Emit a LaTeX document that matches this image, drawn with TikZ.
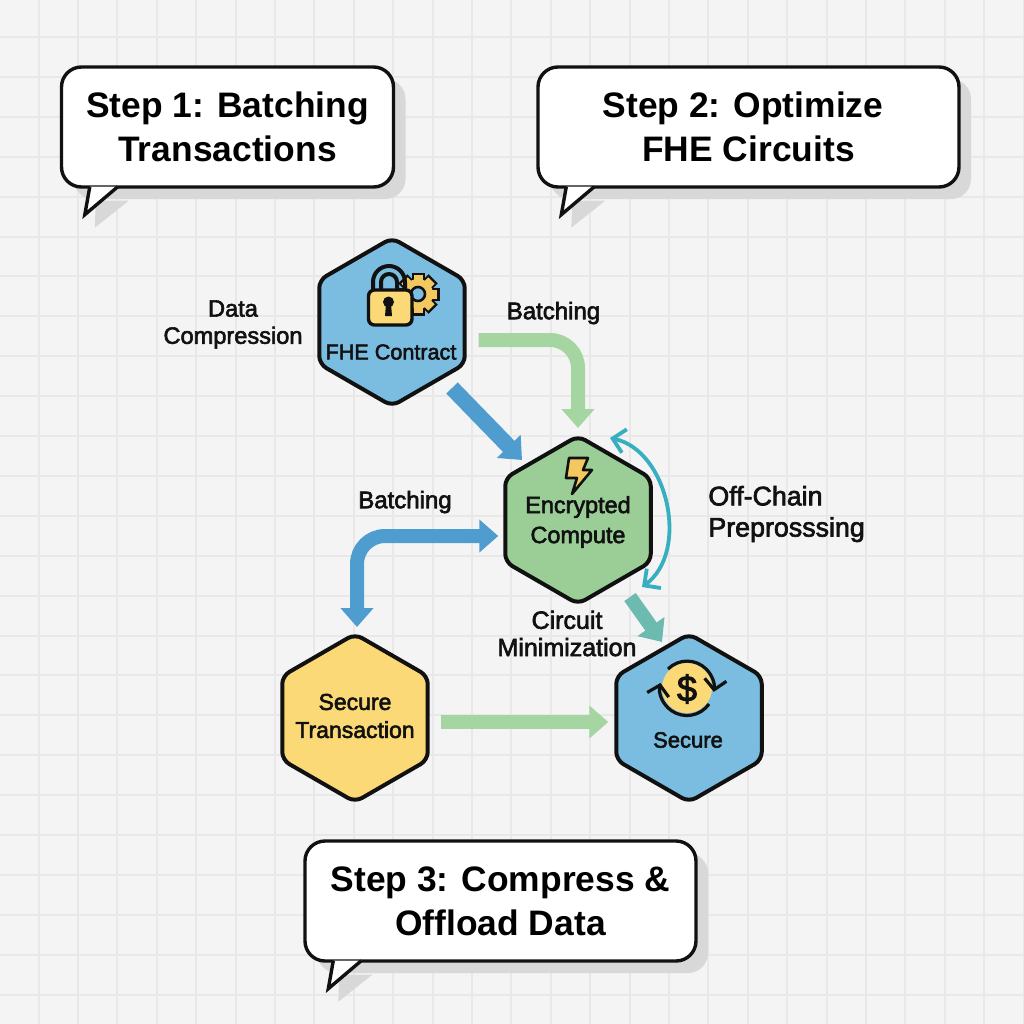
\documentclass[tikz,border=0pt]{standalone}
\usepackage{fontspec}
\setmainfont{Liberation Sans}
\newfontfamily\labelfont[FakeBold=2.5]{Liberation Sans}
\usetikzlibrary{arrows.meta,shapes.geometric,shadows}
\definecolor{paper}{HTML}{F4F4F4}
\definecolor{gridline}{HTML}{E8E8E8}
\definecolor{bubbleshade}{HTML}{D8D8D8}
\definecolor{ink}{HTML}{111111}
\definecolor{hexblue}{HTML}{7BBDE0}
\definecolor{hexgreen}{HTML}{9BCE96}
\definecolor{hexyellow}{HTML}{FBD976}
\definecolor{arrowblue}{HTML}{4F9DCE}
\definecolor{arrowgreen}{HTML}{A5D5A0}
\definecolor{arrowteal}{HTML}{6DBBB0}
\definecolor{curveteal}{HTML}{38AFC0}
\definecolor{geargold}{HTML}{F3C95F}

\begin{document}
\begin{tikzpicture}
  [x=0.5pt,y=-0.5pt,
   hexnode/.style={regular polygon,regular polygon sides=6,shape border rotate=30,
     minimum size=84pt,inner sep=0pt,outer sep=0pt,draw=ink,line width=2pt,rounded corners=4pt},
   stepbubble/.style={rectangle,rounded corners=10pt,draw=ink,fill=white,line width=1.7pt,
     minimum height=60pt,align=center,font=\fontsize{17.7}{22}\selectfont\bfseries,
     drop shadow={shadow xshift=6pt,shadow yshift=-6pt,fill=bubbleshade,opacity=1}},
   flowlabel/.style={align=center,text=ink,inner sep=0pt,
     font=\fontsize{12}{13.6}\selectfont\labelfont},
   fatarrow/.style={line width=7pt,rounded corners=14pt,
     arrows={-Triangle[width=16pt,length=9.5pt]}},
   fattwoway/.style={line width=7pt,rounded corners=14pt,
     arrows={Triangle[width=16pt,length=9.5pt]-Triangle[width=16pt,length=9.5pt]}},
   iconline/.style={draw=ink,line width=1.3pt,line join=round}]

  \fill[paper] (0,0) rectangle (1024,1024);
  \useasboundingbox (0,0) rectangle (1024,1024);
  \foreach \gx in {0,...,25}
    \draw[gridline,line width=1pt] (38.5+39.4*\gx,0) -- (38.5+39.4*\gx,1024);
  \foreach \gy in {0,...,24}
    \draw[gridline,line width=1pt] (0,37+39.9*\gy) -- (1024,37+39.9*\gy);

  % step bubbles
  \node[stepbubble,minimum width=166pt] (step1) at (227.5,127) {Step 1: Batching\\Transactions};
  \node[stepbubble,minimum width=210.5pt] (step2) at (748.5,127) {Step 2: Optimize\kern5.5pt\\FHE Circuits};
  \node[stepbubble,minimum width=195.5pt] (step3) at (500.5,901) {Step 3: Compress \&\\Offload Data};
  \foreach \bubble in {step1,step2,step3} {
    \fill[bubbleshade] ([shift={(36,12)}]\bubble.south west) -- ++(-1,27) -- ++(34,-27) -- cycle;
    \filldraw[fill=white,draw=ink,line width=1.7pt,line join=miter]
      ([shift={(30,-2)}]\bubble.south west) -- ++(-5,28) -- ++(33,-28);
  }

  % hexagons
  \node[hexnode,fill=hexblue] (fhe) at (392,322) {};
  \node[hexnode,fill=hexgreen] (enc) at (578,520) {};
  \node[hexnode,fill=hexyellow] (stx) at (355,718) {};
  \node[hexnode,fill=hexblue] (sec) at (689,718) {};

  \node[flowlabel,font=\fontsize{10.8}{15}\selectfont\labelfont] (fhetext) at (391,352) {FHE Contract};
  \node[flowlabel,font=\fontsize{11.7}{15}\selectfont\labelfont] (enctext) at (578,522) {Encrypted\\Compute};
  \node[flowlabel,font=\fontsize{11.5}{14}\selectfont\labelfont] (stxtext) at (355,716) {Secure\\Transaction};
  \node[flowlabel,font=\fontsize{11}{15}\selectfont\labelfont] (sectext) at (688,740) {Secure};

  % connectors
  \draw[fatarrow,arrowgreen] ([shift={(14,18)}]fhe.east) -| ([shift={(0,-8)}]enc.north);
  \draw[fatarrow,arrowblue,line width=8pt] ([shift={(60,66)}]fhe.center) -- ([shift={(-56,-60)}]enc.center);
  \draw[fattwoway,arrowblue] ([shift={(-7,16)}]enc.west) -| ([shift={(2,-7)}]stx.north);
  \draw[fatarrow,arrowgreen] ([shift={(13,4)}]stx.east) -- ([shift={(-8,4)}]sec.west);
  \draw[fatarrow,arrowteal] ([shift={(52,77)}]enc.center) -- ([shift={(-27,8)}]sec.north);
  \draw[curveteal,line width=1.9pt,arrows={Straight Barb[length=6pt,width=12pt]-Straight Barb[length=6pt,width=12pt]}]
    ([shift={(32,2)}]enc.north) to[bend left=66] ([shift={(64,67)}]enc.center);

  % free labels
  \node[flowlabel,font=\fontsize{11.8}{13.6}\selectfont\labelfont] (datacomp) at (233,324.5) {Data\\Compression};
  \node[flowlabel] (batchtop) at (553.5,313) {Batching};
  \node[flowlabel] (batchleft) at (405,502) {Batching};
  \node[flowlabel,align=left,anchor=west,font=\fontsize{13.4}{15.6}\selectfont\labelfont] (offchain) at (708,514) {Off-Chain\\Preprosssing};
  \node[flowlabel,font=\fontsize{12.5}{13.6}\selectfont\labelfont] (circuit) at (567,633.5) {Circuit\\Minimization};

  % lock and gear
  \foreach \a in {0,45,...,315}
    \draw[draw=ink,line width=1.5pt,fill=geargold,rotate around={\a:(418,294)}] (413,274) rectangle (423,282);
  \fill[ink] (418,294) circle (16);
  \foreach \a in {0,45,...,315}
    \fill[geargold,rotate around={\a:(418,294)}] (413.5,275) rectangle (422.5,284);
  \fill[geargold] (418,294) circle (15);
  \filldraw[fill=hexblue,iconline] (418,294) circle (7);
  \draw[ink,line width=2pt] (373,292) -- (373,282) arc[start angle=180,end angle=360,radius=16] -- (405,292);
  \draw[ink,line width=2pt] (381,292) -- (381,282) arc[start angle=180,end angle=360,radius=8] -- (397,292);
  \filldraw[fill=hexyellow,draw=ink,line width=1.7pt,rounded corners=3pt] (368.5,290) rectangle (412,325);
  \fill[ink] (388.5,302) circle (5.5);
  \fill[ink] (386,304) -- (385,316) -- (392,316) -- (391,304) -- cycle;

  % bolt
  \filldraw[fill=geargold,iconline] (569,458) -- (588,458) -- (583,470) -- (592,470)
    -- (572,494) -- (577,478) -- (566,478) -- cycle;

  % dollar coin
  \fill[hexyellow] (687,688) circle (25);
  \node[text=ink,inner sep=0pt,font=\fontsize{18}{18}\selectfont\labelfont] (dollar) at (687,689) {\$};
  \draw[ink,line width=1.6pt,arrows={-Straight Barb[length=5pt,width=11pt]}]
    (668,669) arc[start angle=-135,end angle=8,radius=27];
  \draw[ink,line width=1.6pt,arrows={-Straight Barb[length=5pt,width=11pt]}]
    (709,704) arc[start angle=35,end angle=192,radius=27];
\end{tikzpicture}
\end{document}
